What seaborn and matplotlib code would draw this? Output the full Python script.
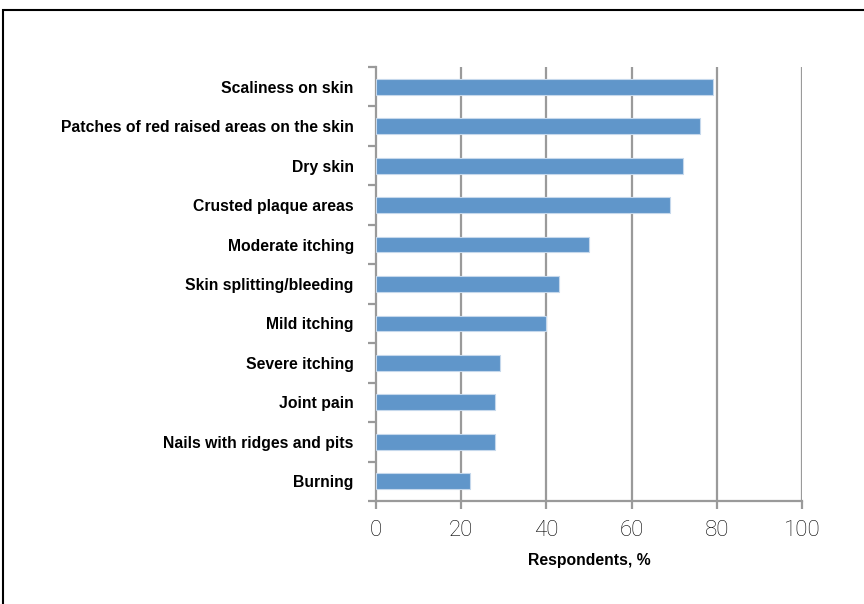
import matplotlib
matplotlib.use("Agg")
import matplotlib.pyplot as plt
from matplotlib.patches import Rectangle
import numpy as np
import pandas as pd
import seaborn as sns

symptoms = [
    "Scaliness on skin",
    "Patches of red raised areas on the skin",
    "Dry skin",
    "Crusted plaque areas",
    "Moderate itching",
    "Skin splitting/bleeding",
    "Mild itching",
    "Severe itching",
    "Joint pain",
    "Nails with ridges and pits",
    "Burning",
]
respondents = [79, 76, 72, 69, 50, 43, 40, 29, 28, 28, 22]
x_ticks = [0, 20, 40, 60, 80, 100]

sns.set_theme(style="white")
plt.rcParams["font.family"] = ["Liberation Sans", "DejaVu Sans"]

df = pd.DataFrame({"symptom": symptoms, "pct": respondents})

fig = plt.figure(figsize=(8.64, 6.04), dpi=100)
ax = fig.add_axes([376 / 864, 1 - 501 / 604, (802 - 376) / 864, (501 - 67) / 604])

grey = "#9a9a9a"
sns.barplot(data=df, x="pct", y="symptom", orient="h", color="#6096ca",
            saturation=1, width=0.4, edgecolor="#c5d8ec", linewidth=0.8, ax=ax, zorder=3)

ax.set_xlim(0, 100)
ax.set_ylim(len(symptoms) - 0.5, -0.5)
ax.set_xticks(x_ticks)
ax.set_xticklabels([str(t) for t in x_ticks], fontsize=16,
                   family=["Roboto", "DejaVu Sans"], fontweight="light", color="black")

# vertical grid lines
for t in x_ticks[1:]:
    ax.axvline(t, color=grey, lw=1.6, zorder=1)

for s in ["top", "right"]:
    ax.spines[s].set_visible(False)
for s in ["left", "bottom"]:
    ax.spines[s].set_color(grey)
    ax.spines[s].set_linewidth(1.6)

ax.set_yticks(np.arange(len(symptoms)))
ax.set_yticklabels(symptoms, fontsize=11.3, fontweight="bold", color="black")
ax.set_yticks(np.arange(len(symptoms) + 1) - 0.5, minor=True)
ax.tick_params(axis="y", which="major", left=True, length=0, pad=16)
ax.tick_params(axis="y", which="minor", left=True, length=6, width=1.6, color=grey, direction="out")
ax.tick_params(axis="x", which="major", bottom=True, length=6, width=1.6, color=grey,
               direction="out", pad=8)

ax.set_xlabel("Respondents, %", fontsize=11.3, fontweight="bold", color="black", labelpad=8)
ax.set_ylabel("")

# outer frame
fig.patches.append(Rectangle((3 / 864, -0.1), 1.2, 1 - 10 / 604 + 0.1,
                             transform=fig.transFigure, fill=False,
                             edgecolor="black", lw=1.5, clip_on=False))

fig.savefig("out.png", dpi=100)
